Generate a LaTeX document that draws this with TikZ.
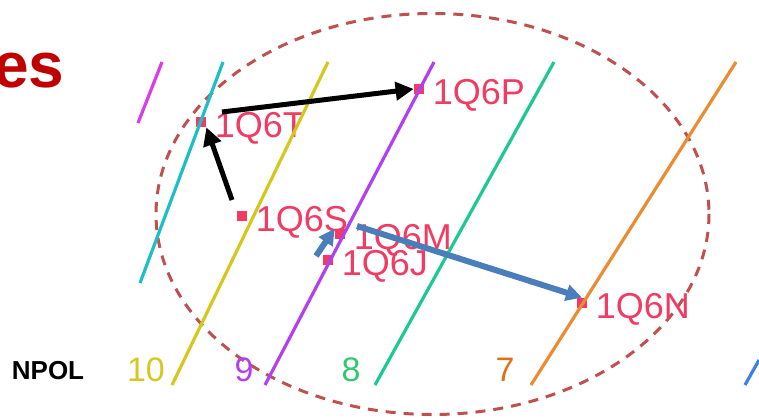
\documentclass[tikz,border=0pt]{standalone}
\usepackage{fontspec}
\setmainfont{Liberation Sans}
\usetikzlibrary{arrows.meta,positioning}
\definecolor{rimred}{RGB}{192,80,77}
\definecolor{qred}{RGB}{240,60,100}
\definecolor{titlered}{RGB}{192,0,0}
\definecolor{arrblue}{RGB}{74,126,187}
\definecolor{polmag}{RGB}{220,60,230}
\definecolor{polcyan}{RGB}{30,190,200}
\definecolor{polyel}{RGB}{212,200,30}
\definecolor{polpur}{RGB}{176,64,240}
\definecolor{polteal}{RGB}{30,200,150}
\definecolor{polorg}{RGB}{235,140,50}
\definecolor{polblue}{RGB}{60,130,230}
\definecolor{numgreen}{RGB}{50,200,110}
\definecolor{numorg}{RGB}{225,112,20}

\begin{document}
\begin{tikzpicture}[x=0.5pt, y=-0.5pt,
  sq/.style={fill=qred, minimum size=5pt, inner sep=0pt},
  qlab/.style={text=qred, font=\fontsize{18}{18}\selectfont, inner sep=0pt, yshift=-3pt},
  blk/.style={-{Triangle[length=9pt,width=9pt]}, line width=2.5pt},
  blu/.style={-{Triangle[length=8pt,width=8pt]}, line width=3pt, draw=arrblue},
  pol/.style={line width=1.6pt},
  num/.style={font=\fontsize{17}{17}\selectfont, inner sep=0pt}]
  \useasboundingbox (0,0) rectangle (759,417);
  \node[anchor=base east, text=titlered, inner sep=0pt,
        font=\fontsize{32}{32}\selectfont\bfseries] (title) at (65,88) {es};
  % dashed rim
  \draw[rimred, line width=1.5pt, dash pattern=on 5pt off 4pt] (432.5,214) ellipse (276.5 and 200.5);
  % markers and labels
  \node[sq] (mT) at (201,122) {};
  \node[sq] (mP) at (419,89) {};
  \node[sq] (mS) at (242,216) {};
  \node[sq] (mM) at (340,234) {};
  \node[sq] (mJ) at (328,260) {};
  \node[sq] (mN) at (582,303) {};
  \node[qlab, right=4pt of mT] (lT) {1Q6T};
  \node[qlab, right=4pt of mP] (lP) {1Q6P};
  \node[qlab, right=4pt of mS] (lS) {1Q6S};
  \node[qlab, right=4pt of mM] (lM) {1Q6M};
  \node[qlab, right=4pt of mJ] (lJ) {1Q6J};
  \node[qlab, right=4pt of mN] (lN) {1Q6N};
  % polarisation lines
  \draw[pol, polmag] (162,62) -- (138,123);
  \draw[pol, polcyan] (223,62) -- (140,283);
  \draw[pol, polyel] (328,62) -- (172,385);
  \draw[pol, polpur] (434,62) -- (265,385);
  \draw[pol, polteal] (554,62) -- (375,385);
  \draw[pol, polorg] (736,62) -- (531,385);
  \draw[pol, polblue] (759,360) -- (745,385);
  % bottom row
  \node[font=\fontsize{13}{13}\selectfont\bfseries, inner sep=0pt] (npol) at (48,371) {NPOL};
  \node[num, text=polyel] (n10) at (146,370) {10};
  \node[num, text=polpur] (n9) at (244,370) {9};
  \node[num, text=numgreen] (n8) at (351,370) {8};
  \node[num, text=numorg] (n7) at (505,370) {7};
  % moves
  \coordinate (sTail) at (232,200);
  \coordinate (tTail) at (222,112);
  \coordinate (jTail) at (316,256);
  \coordinate (mTail) at (357,226);
  \draw[blk] (sTail) -- (mT.south east);
  \draw[blk] (tTail) -- (mP.west);
  \draw[blu] (jTail) -- (mM.north west);
  \draw[blu] (mTail) -- (mN.north);
\end{tikzpicture}
\end{document}
